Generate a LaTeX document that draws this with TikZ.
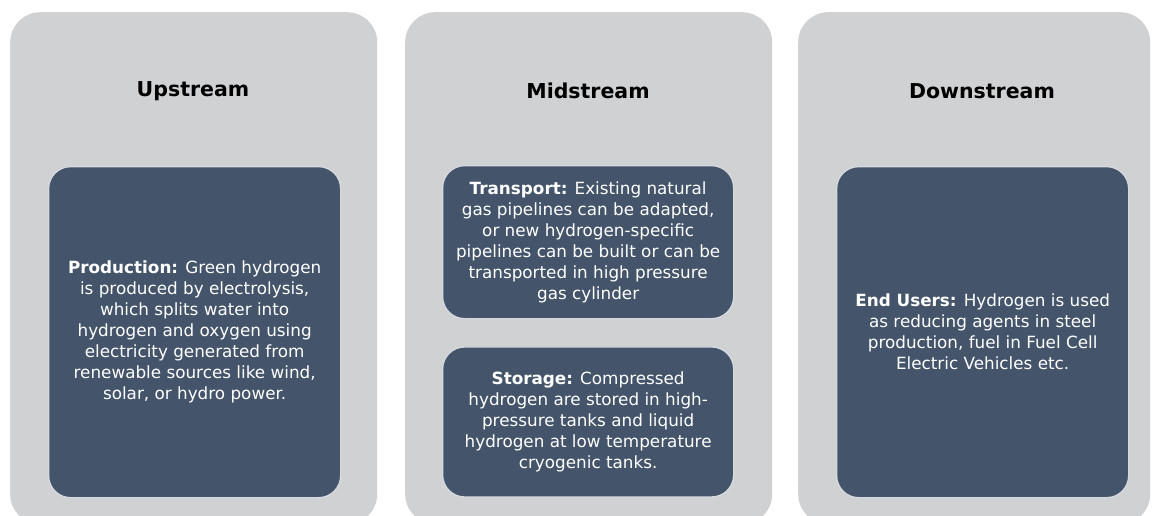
\documentclass[tikz,border=0pt]{standalone}
\usepackage{fontspec}
\setmainfont{DejaVu Sans}
\usepackage{tikz}
\usetikzlibrary{positioning}

\definecolor{panelgrey}{HTML}{D0D1D3}
\definecolor{slate}{HTML}{44546A}

\begin{document}
\begin{tikzpicture}[x=1pt, y=1pt,
		panel/.style={fill=panelgrey, rounded corners=30pt, minimum height=512pt, inner sep=0pt, anchor=north west},
		title/.style={font=\fontsize{20.5}{24}\selectfont\bfseries, text=black},
		card/.style={draw=white!78!slate, line width=1.3pt, fill=slate, rounded corners=22pt, text=white, align=center, inner sep=0pt, anchor=north west, font=\fontsize{16.8}{21}\selectfont}]

	\useasboundingbox (0,0) rectangle (1153,-515);

	% 三个灰色背景
	\foreach \x/\w/\n in {10/367/up, 405/367/mid, 798/352/down} {
			\node[panel, minimum width=\w pt] (\n) at (\x, -12) {};
		}

	% 标题
	\node[title] (uptitle) at (193, -91) {Upstream};
	\node[title] (midtitle) at (588, -91) {Midstream};
	\node[title] (downtitle) at (982, -91) {Downstream};

	% 上游
	\node[card, minimum width=292pt, minimum height=331pt] (prod) at (48, -166)
	{\textbf{Production:} Green hydrogen\\is produced by electrolysis,\\which splits water into\\hydrogen and oxygen using\\electricity generated from\\renewable sources like wind,\\solar, or hydro power.};

	% 中游(上下两块)
	\node[card, minimum width=291pt, minimum height=153pt] (trans) at (442, -165)
	{\textbf{Transport:} Existing natural\\gas pipelines can be adapted,\\or new hydrogen-specific\\pipelines can be built or can be\\transported in high pressure\\gas cylinder};
	\node[card, minimum width=291pt, minimum height=150pt, below=27pt of trans.south west, anchor=north west] (stor)
	{\textbf{Storage:} Compressed\\hydrogen are stored in high-\\pressure tanks and liquid\\hydrogen at low temperature\\cryogenic tanks.};

	% 下游
	\node[card, minimum width=292pt, minimum height=331pt] (users) at (836, -166)
	{\textbf{End Users:} Hydrogen is used\\as reducing agents in steel\\production, fuel in Fuel Cell\\Electric Vehicles etc.};

\end{tikzpicture}
\end{document}
